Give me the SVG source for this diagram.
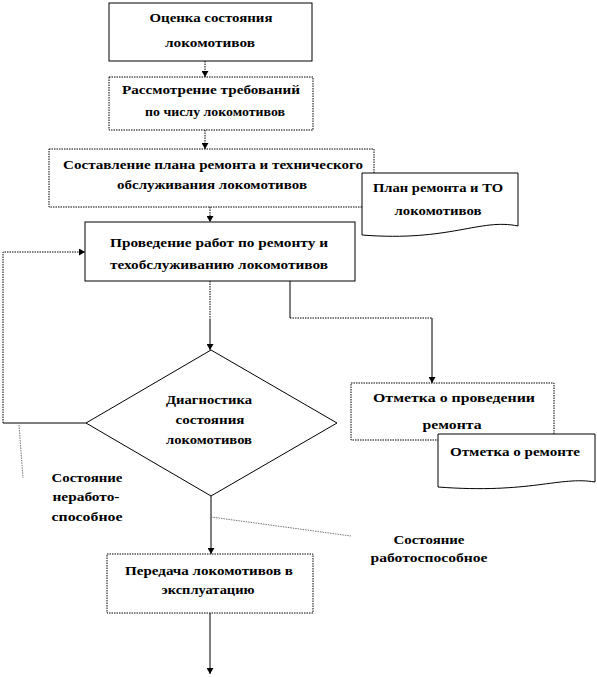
<svg xmlns="http://www.w3.org/2000/svg" width="597" height="677" viewBox="0 0 597 677">
<style>
text{font-family:"Liberation Serif","Times New Roman",serif;font-weight:bold;font-size:13px;fill:#000;text-anchor:middle}
.box{fill:#fff;stroke:#000;stroke-width:1}
.dot{stroke-dasharray:1.5 1}
.ln{fill:none;stroke:#000;stroke-width:1}
.thin{fill:none;stroke:#555;stroke-width:0.8;stroke-dasharray:1.5 1}
</style>
<defs>
<marker id="ah" markerWidth="6" markerHeight="7" refX="6" refY="3.5" orient="auto" markerUnits="userSpaceOnUse">
<path d="M0,0 L6,3.5 L0,7 Z" fill="#000"/>
</marker>
</defs>
<rect width="597" height="677" fill="#fff"/>
<g id="connectors">
<line class="ln dot" x1="205" y1="61" x2="205" y2="77" marker-end="url(#ah)"/>
<line class="ln dot" x1="205" y1="130" x2="205" y2="149" marker-end="url(#ah)"/>
<line class="ln dot" x1="210" y1="207" x2="210" y2="222" marker-end="url(#ah)"/>
<line class="ln dot" x1="210" y1="281" x2="210" y2="320"/>
<line class="ln" x1="210" y1="320" x2="210" y2="350" marker-end="url(#ah)"/>
<path class="ln" d="M290,281 V318"/>
<path class="ln dot" d="M290,318 H432"/>
<path class="ln" d="M432,318 V383" marker-end="url(#ah)"/>
<path class="ln" d="M86,423 H3"/>
<path class="ln dot" d="M3,423 V252 H85" marker-end="url(#ah)"/>
<line class="ln" x1="211" y1="496" x2="211" y2="554" marker-end="url(#ah)"/>
<line class="ln" x1="210" y1="613" x2="210" y2="674" marker-end="url(#ah)"/>
<line class="thin" x1="19" y1="425" x2="23" y2="478"/>
<line class="thin" x1="211" y1="517" x2="351" y2="536"/>
</g>
<g id="n1">
<rect class="box" x="109" y="3" width="203" height="58"/>
<text x="211" y="22" textLength="123" lengthAdjust="spacingAndGlyphs">Оценка состояния</text>
<text x="210" y="47" textLength="90" lengthAdjust="spacingAndGlyphs">локомотивов</text>
</g>
<g id="n2">
<rect class="box dot" x="109" y="77" width="204" height="53"/>
<text x="211" y="94" textLength="178" lengthAdjust="spacingAndGlyphs">Рассмотрение требований</text>
<text x="215" y="116" textLength="140" lengthAdjust="spacingAndGlyphs">по числу локомотивов</text>
</g>
<g id="n3">
<rect class="box dot" x="49" y="149" width="325" height="58"/>
<text x="213" y="169" textLength="300" lengthAdjust="spacingAndGlyphs">Составление плана ремонта и технического</text>
<text x="212" y="189" textLength="190" lengthAdjust="spacingAndGlyphs">обслуживания локомотивов</text>
</g>
<g id="doc1">
<path class="box" d="M362,173 H518 V226 C480,218 450,242 362,235 Z"/>
<text x="438" y="192" textLength="130" lengthAdjust="spacingAndGlyphs">План ремонта и ТО</text>
<text x="438" y="215" textLength="87" lengthAdjust="spacingAndGlyphs">локомотивов</text>
</g>
<g id="n4">
<rect class="box" x="85" y="222" width="270" height="59"/>
<text x="219" y="247" textLength="218" lengthAdjust="spacingAndGlyphs">Проведение работ по ремонту и</text>
<text x="219" y="269" textLength="218" lengthAdjust="spacingAndGlyphs">техобслуживанию локомотивов</text>
</g>
<g id="n5">
<polygon class="box" points="211,350 337,423 211,496 86,423"/>
<text x="209" y="404" textLength="86" lengthAdjust="spacingAndGlyphs">Диагностика</text>
<text x="210" y="424" textLength="69" lengthAdjust="spacingAndGlyphs">состояния</text>
<text x="209" y="444" textLength="86" lengthAdjust="spacingAndGlyphs">локомотивов</text>
</g>
<g id="n6">
<rect class="box dot" x="351" y="383" width="203" height="57"/>
<text x="454" y="402" textLength="162" lengthAdjust="spacingAndGlyphs">Отметка о проведении</text>
<text x="452" y="429" textLength="59" lengthAdjust="spacingAndGlyphs">ремонта</text>
</g>
<g id="doc2">
<path class="box" d="M438,434 H595 V482 C560,476 530,494 438,487 Z"/>
<text x="515" y="456" textLength="130" lengthAdjust="spacingAndGlyphs">Отметка о ремонте</text>
</g>
<g id="lbl1">
<text x="87" y="482" textLength="71" lengthAdjust="spacingAndGlyphs">Состояние</text>
<text x="86" y="501" textLength="67" lengthAdjust="spacingAndGlyphs">неработо-</text>
<text x="87" y="521" textLength="71" lengthAdjust="spacingAndGlyphs">способное</text>
</g>
<g id="lbl2">
<text x="429" y="544" textLength="71" lengthAdjust="spacingAndGlyphs">Состояние</text>
<text x="429" y="562" textLength="117" lengthAdjust="spacingAndGlyphs">работоспособное</text>
</g>
<g id="n7">
<rect class="box dot" x="107" y="554" width="206" height="59"/>
<text x="209" y="575" textLength="168" lengthAdjust="spacingAndGlyphs">Передача локомотивов в</text>
<text x="208" y="594" textLength="93" lengthAdjust="spacingAndGlyphs">эксплуатацию</text>
</g>
</svg>
